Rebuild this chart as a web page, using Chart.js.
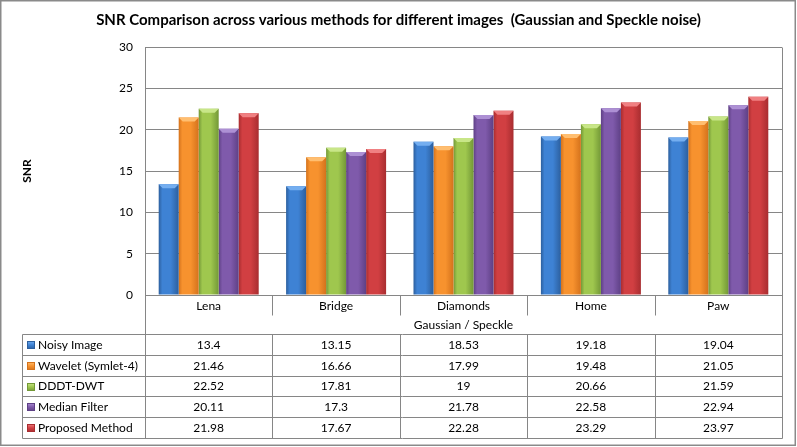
<!DOCTYPE html>
<html>
<head>
<meta charset="utf-8">
<script src="https://cdn.jsdelivr.net/npm/chart.js@4"></script>
<style>
html,body{margin:0;padding:0;background:#fff;}
#wrap{width:797px;height:447px;position:relative;}
</style>
</head>
<body>
<div id="wrap"><canvas id="c" width="797" height="447"></canvas></div>
<script>
// ---- data ----
const categories = ['Lena', 'Bridge', 'Diamonds', 'Home', 'Paw'];
const seriesNames = ['Noisy Image', 'Wavelet (Symlet-4)', 'DDDT-DWT', 'Median Filter', 'Proposed Method'];
const noisyImage = [13.4, 13.15, 18.53, 19.18, 19.04];
const waveletSymlet4 = [21.46, 16.66, 17.99, 19.48, 21.05];
const dddtDwt = [22.52, 17.81, 19, 20.66, 21.59];
const medianFilter = [20.11, 17.3, 21.78, 22.58, 22.94];
const proposedMethod = [21.98, 17.67, 22.28, 23.29, 23.97];
const yTicks = [0, 5, 10, 15, 20, 25, 30];
const chartTitle = 'SNR Comparison across various methods for different images  (Gaussian and Speckle noise)';
const xTitle = 'Gaussian / Speckle';
const yTitle = 'SNR';

// ---- styles ----
const palettes = [
  {dark:'#2c5f9e', mid:'#3e82d4', light:'#74aef0'},
  {dark:'#d4721c', mid:'#f7922e', light:'#ffbe70'},
  {dark:'#739837', mid:'#9fc74e', light:'#c8e688'},
  {dark:'#5e4085', mid:'#7f5aab', light:'#ad90d4'},
  {dark:'#a82d30', mid:'#d13f42', light:'#f08082'}
];
const gridColor = '#868686';
const FONT = 'Lato, "Open Sans", sans-serif';

const allSeries = [noisyImage, waveletSymlet4, dddtDwt, medianFilter, proposedMethod];

const barStyle = {
  id: 'barStyle',
  beforeDatasetsDraw(chart) {
    const ctx = chart.ctx;
    chart.data.datasets.forEach((ds, di) => {
      const meta = chart.getDatasetMeta(di);
      const p = palettes[di];
      meta.data.forEach(el => {
        const l = el.x - el.width / 2, r = el.x + el.width / 2;
        const g = ctx.createLinearGradient(l, 0, r, 0);
        g.addColorStop(0, p.dark);
        g.addColorStop(0.18, p.mid);
        g.addColorStop(0.6, p.mid);
        g.addColorStop(1, p.dark);
        el.options = Object.assign({}, el.options, {backgroundColor: g});
      });
    });
  },
  afterDatasetsDraw(chart) {
    const ctx = chart.ctx;
    chart.data.datasets.forEach((ds, di) => {
      const meta = chart.getDatasetMeta(di);
      const p = palettes[di];
      meta.data.forEach(el => {
        const l = el.x - el.width / 2, r = el.x + el.width / 2, t = el.y;
        ctx.save();
        ctx.fillStyle = p.light;
        ctx.beginPath();
        ctx.moveTo(l, t);
        ctx.lineTo(r, t);
        ctx.lineTo(r - 4, t + 4);
        ctx.lineTo(l + 4, t + 4);
        ctx.closePath();
        ctx.fill();
        ctx.restore();
      });
    });
  }
};

const dataTable = {
  id: 'dataTable',
  afterDraw(chart) {
    const ctx = chart.ctx;
    const ca = chart.chartArea;
    const xs = chart.scales.x;
    const n = categories.length;
    const catW = (ca.right - ca.left) / n;
    const tableTop = ca.bottom + 39;
    const rowH = 20.8;
    const tableLeft = 22;
    const rows = seriesNames.length;
    const tableBottom = tableTop + rows * rowH;
    ctx.save();
    ctx.strokeStyle = gridColor;
    ctx.lineWidth = 1;
    const line = (x1, y1, x2, y2) => {
      ctx.beginPath();
      ctx.moveTo(Math.round(x1) + 0.5, Math.round(y1) + 0.5);
      ctx.lineTo(Math.round(x2) + 0.5, Math.round(y2) + 0.5);
      ctx.stroke();
    };
    line(ca.right, ca.top, ca.right, tableBottom);
    line(ca.left, ca.bottom, ca.left, tableBottom);
    for (let i = 1; i < n; i++) {
      const x = ca.left + i * catW;
      line(x, ca.bottom, x, ca.bottom + 20);
      line(x, tableTop, x, tableBottom);
    }
    for (let r = 0; r <= rows; r++) {
      const y = tableTop + r * rowH;
      line(tableLeft, y, ca.right, y);
    }
    line(tableLeft, tableTop, tableLeft, tableBottom);

    ctx.fillStyle = '#000';
    ctx.font = '12px ' + FONT;
    ctx.textBaseline = 'middle';
    ctx.textAlign = 'center';
    categories.forEach((c, i) => {
      ctx.fillText(c, xs.getPixelForValue(i), ca.bottom + 11);
    });
    ctx.fillText(xTitle, (ca.left + ca.right) / 2, ca.bottom + 30);

    for (let r = 0; r < rows; r++) {
      const yc = tableTop + r * rowH + rowH / 2 + 0.5;
      allSeries[r].forEach((v, i) => {
        ctx.textAlign = 'center';
        ctx.fillText(String(v), xs.getPixelForValue(i), yc);
      });
      const p = palettes[r];
      const kx = 27, ky = Math.round(yc - 4);
      const g = ctx.createLinearGradient(kx, ky, kx, ky + 8);
      g.addColorStop(0, p.light);
      g.addColorStop(0.5, p.mid);
      g.addColorStop(1, p.dark);
      ctx.fillStyle = g;
      ctx.fillRect(kx, ky, 8, 8);
      ctx.strokeStyle = p.dark;
      ctx.strokeRect(kx + 0.5, ky + 0.5, 7, 7);
      ctx.fillStyle = '#000';
      ctx.textAlign = 'left';
      ctx.fillText(seriesNames[r], 38, yc);
    }
    ctx.strokeStyle = '#8a8a8a';
    ctx.lineWidth = 1.5;
    ctx.strokeRect(0.75, 0.75, chart.width - 2.5, chart.height - 2.5);
    ctx.restore();
  }
};

new Chart(document.getElementById('c'), {
  type: 'bar',
  data: {
    labels: categories,
    datasets: allSeries.map((d, i) => ({
      label: seriesNames[i],
      data: d,
      backgroundColor: (c) => palettes[c.datasetIndex].mid,
      borderWidth: 0,
      categoryPercentage: 0.785,
      barPercentage: 1.0
    }))
  },
  options: {
    responsive: false,
    animation: false,
    devicePixelRatio: 1,
    layout: {padding: {left: 15, right: 15, top: 0, bottom: 0}},
    plugins: {
      legend: {display: false},
      tooltip: {enabled: false},
      title: {
        display: true,
        text: chartTitle,
        color: '#000',
        font: {family: FONT, size: 15, weight: 'bold', lineHeight: 18 / 15},
        padding: {top: 11, bottom: 18}
      }
    },
    scales: {
      x: {
        display: true,
        ticks: {display: false},
        grid: {display: false},
        border: {display: false},
        afterFit(scale) { scale.height = 152; }
      },
      y: {
        min: 0,
        max: 30,
        afterBuildTicks(scale) { scale.ticks = yTicks.map(v => ({value: v})); },
        ticks: {color: '#000', padding: 12, font: {family: FONT, size: 12}},
        grid: {color: gridColor, tickLength: 0, lineWidth: 1},
        border: {display: true, color: gridColor},
        title: {display: true, text: yTitle, color: '#000', padding: {top: 5}, font: {family: FONT, size: 12, weight: 'bold'}},
        afterFit(scale) { scale.width = 130; }
      }
    }
  },
  plugins: [barStyle, dataTable]
});
</script>
</body>
</html>
